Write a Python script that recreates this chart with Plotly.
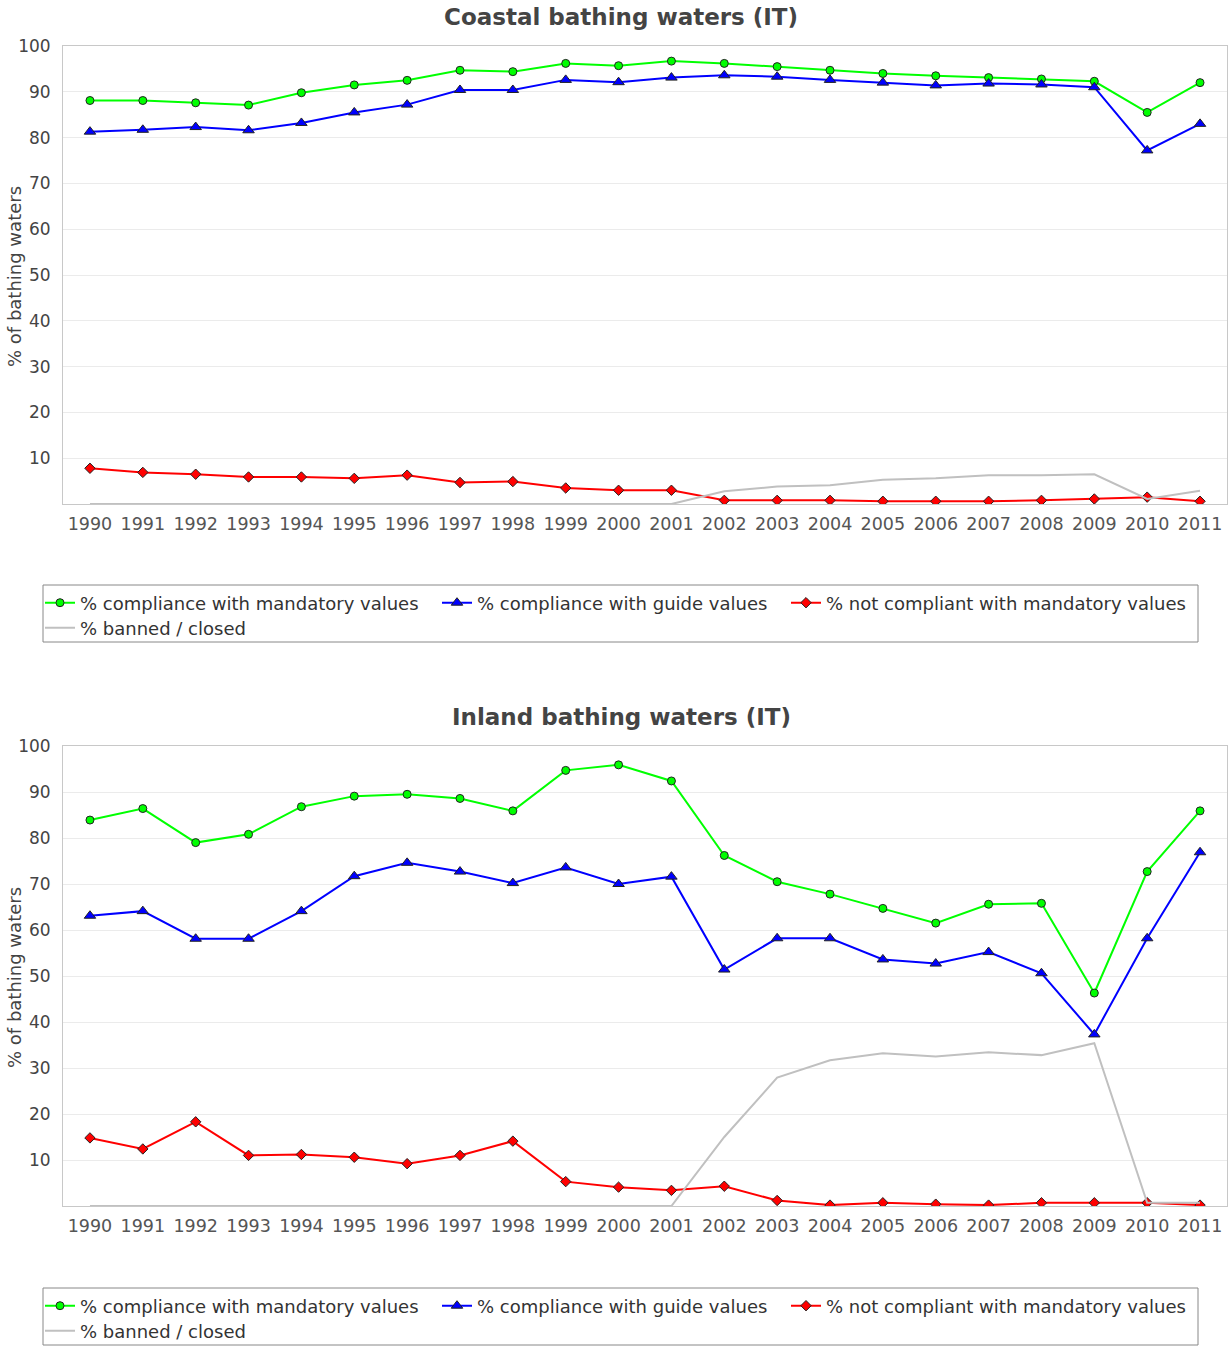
import plotly.graph_objects as go

years = [str(y) for y in range(1990, 2012)]

# Coastal bathing waters (IT)
coastal_mandatory = [88.1, 88.1, 87.6, 87.1, 89.8, 91.5, 92.5, 94.7, 94.4, 96.2, 95.7,
                     96.7, 96.2, 95.5, 94.7, 94.0, 93.5, 93.1, 92.8, 92.3, 85.5, 92.0]
coastal_guide = [81.3, 81.7, 82.3, 81.6, 83.2, 85.5, 87.2, 90.4, 90.4, 92.6, 92.1,
                 93.1, 93.6, 93.3, 92.6, 92.0, 91.4, 91.8, 91.6, 91.0, 77.2, 83.0]
coastal_not_compliant = [7.8, 6.9, 6.5, 5.9, 5.9, 5.6, 6.3, 4.7, 4.9, 3.5, 3.0,
                         3.0, 0.8, 0.8, 0.8, 0.6, 0.6, 0.6, 0.8, 1.1, 1.5, 0.6]
coastal_banned = [0, 0, 0, 0, 0, 0, 0, 0, 0, 0, 0,
                  0, 2.8, 3.8, 4.1, 5.3, 5.6, 6.3, 6.3, 6.5, 1.1, 2.9]

# Inland bathing waters (IT)
inland_mandatory = [83.9, 86.4, 79.0, 80.8, 86.8, 89.1, 89.5, 88.6, 85.9, 94.7, 95.9,
                    92.4, 76.2, 70.5, 67.8, 64.7, 61.5, 65.6, 65.8, 46.3, 72.7, 85.9]
inland_guide = [63.1, 64.1, 58.1, 58.1, 64.1, 71.7, 74.6, 72.7, 70.2, 73.6, 70.0,
                71.6, 51.4, 58.2, 58.2, 53.6, 52.7, 55.2, 50.6, 37.3, 58.2, 76.9]
inland_not_compliant = [14.8, 12.4, 18.3, 11.0, 11.2, 10.6, 9.2, 11.0, 14.1, 5.3, 4.1,
                        3.4, 4.3, 1.2, 0.2, 0.7, 0.4, 0.2, 0.7, 0.7, 0.7, 0.2]
inland_banned = [0, 0, 0, 0, 0, 0, 0, 0, 0, 0, 0,
                 0, 15.0, 27.9, 31.7, 33.2, 32.5, 33.4, 32.8, 35.4, 0.7, 0.7]

series_names = ["% compliance with mandatory values", "% compliance with guide values",
                "% not compliant with mandatory values", "% banned / closed"]
titles = ["Coastal bathing waters (IT)", "Inland bathing waters (IT)"]
y_title = "% of bathing waters"
y_tick_vals = [10, 20, 30, 40, 50, 60, 70, 80, 90, 100]

W, H = 1228, 1347
FONT = "DejaVu Sans"

def py(px):
    return 1 - px / H

def pxx(px):
    return px / W

fig = go.Figure()

panels = [
    dict(data=[coastal_mandatory, coastal_guide, coastal_not_compliant, coastal_banned],
         xa="x", ya="y", top=46, bottom=504, title_y=17, box=(585, 642), rows=(603, 628)),
    dict(data=[inland_mandatory, inland_guide, inland_not_compliant, inland_banned],
         xa="x2", ya="y2", top=746, bottom=1206, title_y=717, box=(1288, 1345), rows=(1306, 1331)),
]

styles = [
    dict(mode="lines+markers", line=dict(color="#00ff00", width=2),
         marker=dict(symbol="circle", size=8, color="#00ff00", line=dict(color="#222", width=1))),
    dict(mode="lines+markers", line=dict(color="#0000ff", width=2),
         marker=dict(symbol="triangle-up", size=10, color="#0000ff", line=dict(color="#222", width=1))),
    dict(mode="lines+markers", line=dict(color="#ff0000", width=2),
         marker=dict(symbol="diamond", size=8, color="#ff0000", line=dict(color="#222", width=1))),
    dict(mode="lines", line=dict(color="#c0c0c0", width=2)),
]

# legend entry symbol centres (px) and row index
entry_pos = [(60, 0), (457, 0), (806, 0), (60, 1)]

layout_legends = {}
lg_index = 0
for i, p in enumerate(panels):
    for j, (name, vals, st) in enumerate(zip(series_names, p["data"], styles)):
        lg_index += 1
        lg_name = "legend" if lg_index == 1 else "legend%d" % lg_index
        fig.add_trace(go.Scatter(x=years, y=vals, name=name, xaxis=p["xa"], yaxis=p["ya"],
                                 legend=lg_name, showlegend=True, **st))
        cx, row = entry_pos[j]
        layout_legends[lg_name] = dict(
            x=pxx(cx - 20), xanchor="left", y=py(p["rows"][row]), yanchor="middle",
            borderwidth=0, bgcolor="rgba(0,0,0,0)", visible=True,
            font=dict(family=FONT, size=18, color="#333"), itemwidth=30)

axis_common_x = dict(type="category", range=[-0.51, 21.51], showgrid=False,
                     showline=True, linecolor="#c8c8c8", linewidth=1, mirror=True,
                     tickfont=dict(family=FONT, size=17.5, color="#555"), ticks="outside",
                     ticklen=4, tickcolor="rgba(0,0,0,0)",
                     zeroline=False, automargin=False)
axis_common_y = dict(range=[0, 100], tickvals=y_tick_vals, showgrid=True, gridcolor="#ebebeb",
                     gridwidth=1, showline=True, linecolor="#c8c8c8", linewidth=1, mirror=True,
                     tickfont=dict(family=FONT, size=17, color="#444"), ticks="outside",
                     ticklen=8, tickcolor="rgba(0,0,0,0)", zeroline=False, automargin=False)

xd = [pxx(63), pxx(1227)]
layout = dict(
    width=W, height=H, margin=dict(l=0, r=0, t=0, b=0, autoexpand=False),
    paper_bgcolor="white", plot_bgcolor="white", showlegend=True,
    font=dict(family=FONT, color="#444"),
    xaxis=dict(domain=xd, anchor="y", **axis_common_x),
    yaxis=dict(domain=[py(panels[0]["bottom"]), py(panels[0]["top"])], anchor="x", **axis_common_y),
    xaxis2=dict(domain=xd, anchor="y2", **axis_common_x),
    yaxis2=dict(domain=[py(panels[1]["bottom"]), py(panels[1]["top"])], anchor="x2", **axis_common_y),
)
layout.update(layout_legends)
fig.update_layout(**layout)

for i, p in enumerate(panels):
    fig.add_annotation(text="<b>" + titles[i] + "</b>", xref="paper", yref="paper",
                       x=pxx(621), y=py(p["title_y"]), xanchor="center", yanchor="middle",
                       showarrow=False, font=dict(family=FONT, size=23, color="#444"))
    fig.add_annotation(text=y_title, xref="paper", yref="paper", textangle=-90,
                       x=pxx(14), y=py((p["top"] + p["bottom"]) / 2 + 2), xanchor="center",
                       yanchor="middle", showarrow=False,
                       font=dict(family=FONT, size=18, color="#444"))
    b0, b1 = p["box"]
    fig.add_shape(type="rect", xref="paper", yref="paper",
                  x0=pxx(43), x1=pxx(1198), y0=py(b1), y1=py(b0),
                  line=dict(color="#888", width=1), fillcolor="rgba(0,0,0,0)", layer="below")

fig.write_html("out.html", config={"displayModeBar": False},
               post_script="document.body.style.margin='0px';document.body.style.overflow='hidden';")
